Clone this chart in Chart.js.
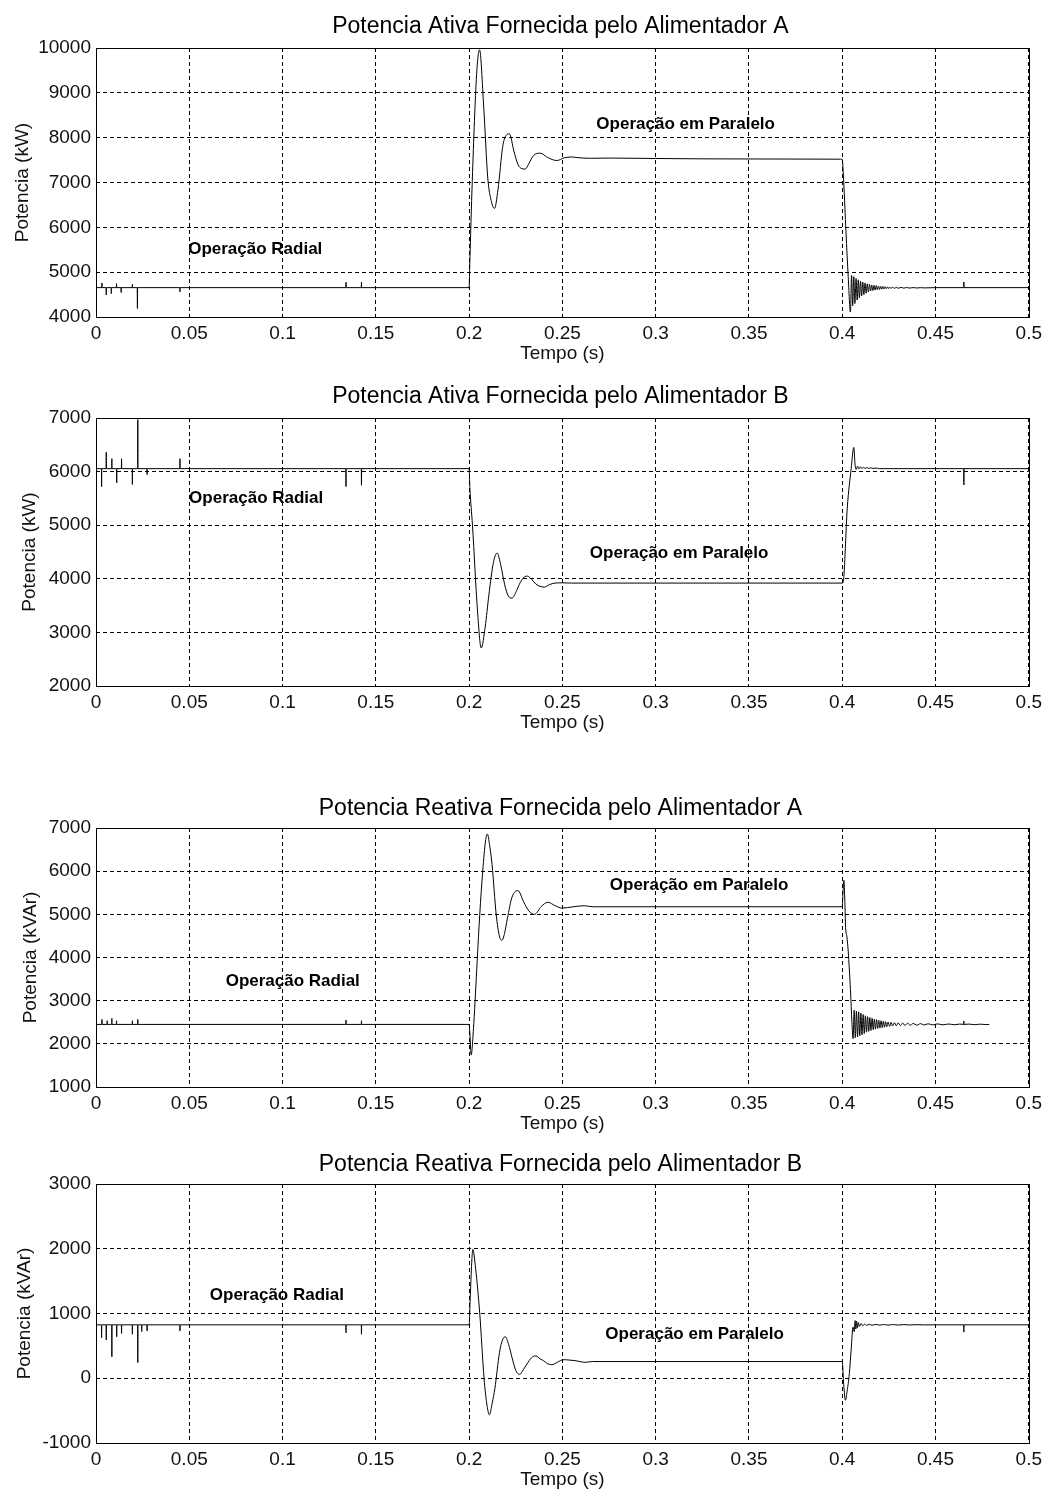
<!DOCTYPE html>
<html>
<head>
<meta charset="utf-8">
<title>Potencia fornecida pelos alimentadores</title>
<script src="https://cdn.jsdelivr.net/npm/chart.js@4.4.1/dist/chart.umd.min.js"></script>
<style>
  body { margin: 0; background: #fff; }
  canvas { position: absolute; left: 0; }
</style>
</head>
<body>
<canvas id="ativaA" width="1047" height="363" style="top:2px"></canvas>
<canvas id="ativaB" width="1047" height="362" style="top:372px"></canvas>
<canvas id="reativaA" width="1047" height="353" style="top:782px"></canvas>
<canvas id="reativaB" width="1047" height="353" style="top:1138px"></canvas>
<script>
// eixo do tempo (s) e marcas
const tempoTicks = [0, 0.05, 0.1, 0.15, 0.2, 0.25, 0.3, 0.35, 0.4, 0.45, 0.5];

const ticksAtivaA = [4000, 5000, 6000, 7000, 8000, 9000, 10000];
const ticksAtivaB = [2000, 3000, 4000, 5000, 6000, 7000];
const ticksReativaA = [1000, 2000, 3000, 4000, 5000, 6000, 7000];
const ticksReativaB = [-1000, 0, 1000, 2000, 3000];

// Potencia ativa - alimentador A (kW)
const tempoAtivaA = [
  0,
  0.0031, 0.0032, 0.0033,
  0.0054, 0.0055, 0.0056,
  0.0081, 0.0082, 0.0083,
  0.0109, 0.0110, 0.0111,
  0.0134, 0.0135, 0.0136,
  0.0194, 0.0195, 0.0196,
  0.0221, 0.0222, 0.0223,
  0.0449, 0.0450, 0.0451,
  0.1339, 0.1340, 0.1341,
  0.1422, 0.1423, 0.1424,
  0.2000, 0.2003, 0.2017, 0.2040, 0.2056, 0.2078, 0.2100, 0.2118, 0.2136, 0.2155,
  0.2180, 0.2198, 0.2216, 0.2240, 0.2262, 0.2282, 0.2301, 0.2320, 0.2345, 0.2381,
  0.2420, 0.2470, 0.2510, 0.2550, 0.2580, 0.2650, 0.2750, 0.2900, 0.3000, 0.3500,
  0.3990, 0.4000, 0.4008, 0.4020, 0.4032, 0.4044,
  0.4050, 0.4056, 0.4062, 0.4068, 0.4074, 0.4080, 0.4086, 0.4092, 0.4098, 0.4104,
  0.4110, 0.4116, 0.4122, 0.4128, 0.4134, 0.4140, 0.4146, 0.4152, 0.4158, 0.4164,
  0.4170, 0.4176, 0.4182, 0.4188, 0.4194, 0.4200, 0.4206, 0.4212, 0.4218, 0.4224,
  0.4230, 0.4236, 0.4242, 0.4248, 0.4254, 0.4260, 0.4270, 0.4280, 0.4290, 0.4300,
  0.4315, 0.4330, 0.4345, 0.4360, 0.4380, 0.4400, 0.4420, 0.4440, 0.4500,
  0.4651, 0.4652, 0.4653,
  0.5000
];
const potAtivaA = [
  4655,
  4655, 4760, 4655,
  4655, 4490, 4655,
  4655, 4520, 4655,
  4655, 4745, 4655,
  4655, 4545, 4655,
  4655, 4730, 4655,
  4655, 4190, 4655,
  4655, 4560, 4655,
  4655, 4775, 4655,
  4655, 4775, 4655,
  4655, 5100, 7050, 9400, 9960, 8700, 7100, 6600, 6420, 6850,
  7800, 8050, 8085, 7700, 7400, 7310, 7300, 7420, 7600, 7655,
  7560, 7490, 7550, 7570, 7555, 7540, 7545, 7540, 7535, 7525,
  7520, 7515, 7000, 5900, 4900, 4110,
  4930, 4250, 4900, 4300, 4860, 4380, 4830, 4430, 4800, 4470,
  4780, 4500, 4760, 4530, 4740, 4560, 4730, 4580, 4715, 4590,
  4705, 4600, 4700, 4610, 4690, 4615, 4685, 4620, 4680, 4625,
  4675, 4630, 4672, 4635, 4668, 4638, 4665, 4640, 4662, 4642,
  4660, 4644, 4658, 4645, 4656, 4647, 4654, 4649, 4655,
  4655, 4780, 4655,
  4655
];

// Potencia ativa - alimentador B (kW)
const tempoAtivaB = [
  0,
  0.0029, 0.0030, 0.0031,
  0.0054, 0.0055, 0.0056,
  0.0084, 0.0085, 0.0086,
  0.0110, 0.0111, 0.0112,
  0.0136, 0.0137, 0.0138,
  0.0194, 0.0195, 0.0196,
  0.0223, 0.0224, 0.0225,
  0.0273, 0.0274, 0.0275,
  0.0449, 0.0450, 0.0451,
  0.1339, 0.1340, 0.1341,
  0.1422, 0.1423, 0.1424,
  0.2000, 0.2004, 0.2018, 0.2045, 0.2065, 0.2086, 0.2106, 0.2130, 0.2150, 0.2170,
  0.2190, 0.2210, 0.2230, 0.2252, 0.2274, 0.2295, 0.2313, 0.2335, 0.2358, 0.2380,
  0.2404, 0.2430, 0.2460, 0.2500, 0.2550, 0.3000, 0.3500, 0.4000,
  0.4006, 0.4027, 0.4048, 0.4062, 0.4069, 0.4075, 0.4082, 0.4090, 0.4098, 0.4106,
  0.4114, 0.4122, 0.4132, 0.4142, 0.4152, 0.4165, 0.4180, 0.4200,
  0.4651, 0.4652, 0.4653,
  0.5000
];
const potAtivaB = [
  6055,
  6055, 5720, 6055,
  6055, 6360, 6055,
  6055, 6240, 6055,
  6055, 5790, 6055,
  6055, 6240, 6055,
  6055, 5760, 6055,
  6055, 6970, 6055,
  6055, 5945, 6055,
  6055, 6240, 6055,
  6055, 5720, 6055,
  6055, 5745, 6055,
  6055, 5700, 5000, 3400, 2710, 3100, 3700, 4300, 4480, 4250,
  3900, 3680, 3640, 3760, 3930, 4030, 4050, 3990, 3900, 3860,
  3845, 3890, 3920, 3925, 3920, 3920, 3920, 3920,
  3960, 5320, 6060, 6450, 6120, 6040, 6100, 6050, 6090, 6055,
  6080, 6058, 6075, 6060, 6070, 6060, 6066, 6055,
  6055, 5750, 6055,
  6055
];

// Potencia reativa - alimentador A (kVAr)
const tempoReativaA = [
  0,
  0.0031, 0.0032, 0.0033,
  0.0059, 0.0060, 0.0061,
  0.0084, 0.0085, 0.0086,
  0.0109, 0.0110, 0.0111,
  0.0194, 0.0195, 0.0196,
  0.0223, 0.0224, 0.0225,
  0.1339, 0.1340, 0.1341,
  0.1422, 0.1423, 0.1424,
  0.2000, 0.2005, 0.2011, 0.2025, 0.2043, 0.2057, 0.2073, 0.2088, 0.2098, 0.2110,
  0.2123, 0.2145, 0.2162, 0.2176, 0.2190, 0.2205, 0.2230, 0.2262, 0.2292, 0.2320,
  0.2351, 0.2386, 0.2422, 0.2461, 0.2497, 0.2559, 0.2618, 0.2660, 0.3000, 0.3500,
  0.4000, 0.4004, 0.4009, 0.4014, 0.4018, 0.4025, 0.4032, 0.4044, 0.4052, 0.4058,
  0.4064, 0.4070, 0.4076, 0.4082, 0.4088, 0.4094, 0.4100, 0.4106, 0.4112, 0.4118,
  0.4124, 0.4130, 0.4136, 0.4142, 0.4148, 0.4154, 0.4160, 0.4166, 0.4172, 0.4178,
  0.4184, 0.4190, 0.4196, 0.4202, 0.4208, 0.4214, 0.4220, 0.4226, 0.4232, 0.4238,
  0.4246, 0.4254, 0.4262, 0.4270, 0.4280, 0.4290, 0.4300, 0.4312, 0.4324, 0.4336,
  0.4350, 0.4365, 0.4380, 0.4400, 0.4420, 0.4440, 0.4460, 0.4485, 0.4510, 0.4540,
  0.4570, 0.4600, 0.4630, 0.4651, 0.4652, 0.4653, 0.4680, 0.4710, 0.4740, 0.4770,
  0.4788
];
const potReativaA = [
  2450,
  2450, 2565, 2450,
  2450, 2535, 2450,
  2450, 2590, 2450,
  2450, 2535, 2450,
  2450, 2535, 2450,
  2450, 2565, 2450,
  2450, 2550, 2450,
  2450, 2535, 2450,
  2450, 2160, 1740, 2470, 3900, 5000, 6000, 6700, 6860, 6600,
  6150, 5000, 4500, 4400, 4560, 4900, 5400, 5550, 5290, 5080,
  5000, 5180, 5280, 5200, 5145, 5175, 5200, 5175, 5175, 5175,
  5175, 5500, 5790, 5300, 4700, 4480, 4150, 3250, 2500, 2120,
  2780, 2140, 2760, 2160, 2740, 2190, 2710, 2210, 2680, 2240,
  2650, 2270, 2630, 2290, 2610, 2310, 2590, 2330, 2575, 2340,
  2560, 2355, 2545, 2365, 2535, 2375, 2525, 2385, 2515, 2395,
  2505, 2405, 2497, 2412, 2490, 2418, 2485, 2422, 2480, 2426,
  2476, 2430, 2472, 2433, 2468, 2436, 2465, 2438, 2462, 2440,
  2460, 2442, 2458, 2450, 2530, 2450, 2457, 2444, 2456, 2446,
  2450
];

// Potencia reativa - alimentador B (kVAr)
const tempoReativaB = [
  0,
  0.0029, 0.0030, 0.0031,
  0.0054, 0.0055, 0.0056,
  0.0084, 0.0085, 0.0086,
  0.0110, 0.0111, 0.0112,
  0.0136, 0.0137, 0.0138,
  0.0194, 0.0195, 0.0196,
  0.0223, 0.0224, 0.0225,
  0.0244, 0.0245, 0.0246,
  0.0273, 0.0274, 0.0275,
  0.0449, 0.0450, 0.0451,
  0.1339, 0.1340, 0.1341,
  0.1422, 0.1423, 0.1424,
  0.2000, 0.2005, 0.2014, 0.2020, 0.2035, 0.2057, 0.2080, 0.2096, 0.2109, 0.2124,
  0.2138, 0.2163, 0.2180, 0.2194, 0.2212, 0.2230, 0.2250, 0.2271, 0.2290, 0.2310,
  0.2335, 0.2358, 0.2380, 0.2400, 0.2420, 0.2443, 0.2475, 0.2506, 0.2540, 0.2568,
  0.2622, 0.2660, 0.3000, 0.3500, 0.4000,
  0.4008, 0.4017, 0.4026, 0.4038, 0.4048, 0.4058, 0.4064, 0.4069, 0.4073, 0.4077,
  0.4081, 0.4086, 0.4092, 0.4100, 0.4110, 0.4120, 0.4130, 0.4145, 0.4160, 0.4180,
  0.4200, 0.4220, 0.4245, 0.4270, 0.4300, 0.4330, 0.4360, 0.4400, 0.4440, 0.4500,
  0.4651, 0.4652, 0.4653,
  0.5000
];
const potReativaB = [
  825,
  825, 625, 825,
  825, 590, 825,
  825, 330, 825,
  825, 640, 825,
  825, 690, 825,
  825, 680, 825,
  825, 240, 825,
  825, 720, 825,
  825, 730, 825,
  825, 730, 825,
  825, 700, 825,
  825, 680, 825,
  825, 1170, 1790, 1990, 1690, 1000, 0, -420, -565, -380,
  -160, 400, 600, 640, 520, 320, 120, 60, 130, 220,
  320, 345, 300, 270, 225, 210, 250, 287, 280, 272,
  246, 258, 258, 258, 258,
  -100, -340, -200, 70, 450, 790, 720, 890, 760, 880,
  780, 860, 800, 845, 810, 838, 815, 834, 818, 832,
  820, 830, 821, 829, 822, 828, 823, 827, 824, 825,
  825, 713, 825,
  825
];

Chart.defaults.font.family = '"Liberation Sans", Arial, Helvetica, sans-serif';
Chart.defaults.color = '#000';

// caixa fechada em volta da area do grafico (estilo matlab)
const moldura = {
  id: 'moldura',
  afterDraw(chart) {
    const { ctx, chartArea: a } = chart;
    ctx.save();
    ctx.strokeStyle = '#000';
    ctx.lineWidth = 1;
    ctx.strokeRect(Math.round(a.left) + 0.5, Math.round(a.top) + 0.5,
      Math.round(a.right - a.left), Math.round(a.bottom - a.top));
    ctx.restore();
  }
};

// titulo centrado sobre os eixos, como no matlab
function titulo(texto, y) {
  return {
    id: 'titulo',
    afterDraw(chart) {
      const { ctx, chartArea: a } = chart;
      ctx.save();
      ctx.font = '23px "Liberation Sans", Arial, sans-serif';
      ctx.fillStyle = '#000';
      ctx.textAlign = 'center';
      ctx.textBaseline = 'middle';
      ctx.fillText(texto, (a.left + a.right) / 2 - 2, y);
      ctx.restore();
    }
  };
}

// textos "Operação ..." posicionados em coordenadas dos eixos
function notas(itens) {
  return {
    id: 'notas',
    afterDatasetsDraw(chart) {
      const { ctx, scales: { x, y } } = chart;
      ctx.save();
      ctx.font = 'bold 17px "Liberation Sans", Arial, sans-serif';
      ctx.fillStyle = '#000';
      ctx.textBaseline = 'middle';
      ctx.textAlign = 'left';
      itens.forEach(n => ctx.fillText(n.texto, x.getPixelForValue(n.t), y.getPixelForValue(n.v)));
      ctx.restore();
    }
  };
}

function grafico(id, cfg) {
  if (cfg.tempo.length !== cfg.valores.length) {
    throw new Error(id + ': ' + cfg.tempo.length + ' tempos, ' + cfg.valores.length + ' valores');
  }
  const pontos = cfg.tempo.map((t, i) => ({ x: t, y: cfg.valores[i] }));
  const yTicks = cfg.yTicks;

  return new Chart(document.getElementById(id), {
    type: 'line',
    data: {
      datasets: [{
        data: pontos,
        borderColor: '#000',
        borderWidth: 1,
        pointRadius: 0,
        fill: false,
        cubicInterpolationMode: 'monotone'
      }]
    },
    options: {
      responsive: false,
      animation: false,
      events: [],
      layout: { padding: { left: 0, right: 16, top: 46, bottom: 0 } },
      plugins: {
        legend: { display: false },
        tooltip: { enabled: false },
        title: { display: false }
      },
      scales: {
        x: {
          type: 'linear',
          min: tempoTicks[0],
          max: tempoTicks[tempoTicks.length - 1],
          afterBuildTicks: s => { s.ticks = tempoTicks.map(v => ({ value: v })); },
          afterFit: s => { s.height = 48; },
          ticks: {
            color: '#111',
            font: { size: 19 },
            padding: 5,
            maxRotation: 0,
            autoSkip: false,
            callback: v => String(+Number(v).toFixed(3))
          },
          grid: { color: '#000', lineWidth: 1, drawTicks: false },
          border: { display: false, dash: [4, 3] },
          title: { display: true, text: 'Tempo (s)', color: '#111', font: { size: 19 }, padding: 0 }
        },
        y: {
          min: yTicks[0],
          max: yTicks[yTicks.length - 1],
          afterBuildTicks: s => { s.ticks = yTicks.map(v => ({ value: v })); },
          afterFit: s => { s.width = 96; },
          ticks: {
            color: '#111',
            font: { size: 19 },
            padding: 5,
            autoSkip: false,
            callback: v => String(v)
          },
          grid: { color: '#000', lineWidth: 1, drawTicks: false },
          border: { display: false, dash: [4, 3] },
          title: {
            display: true,
            text: cfg.rotuloY,
            color: '#111',
            font: { size: 19 },
            padding: { top: cfg.padRotuloY, bottom: 0 }
          }
        }
      }
    },
    plugins: [moldura, titulo(cfg.titulo, cfg.yTitulo), notas(cfg.notas)]
  });
}

grafico('ativaA', {
  titulo: 'Potencia Ativa Fornecida pelo Alimentador A',
  yTitulo: 24.5,
  rotuloY: 'Potencia (kW)',
  tempo: tempoAtivaA,
  valores: potAtivaA,
  yTicks: ticksAtivaA,
  padRotuloY: 11,
  notas: [
    { texto: 'Operação Radial', t: 0.0494, v: 5500 },
    { texto: 'Operação em Paralelo', t: 0.2682, v: 8300 }
  ]
});

grafico('ativaB', {
  titulo: 'Potencia Ativa Fornecida pelo Alimentador B',
  yTitulo: 24.8,
  rotuloY: 'Potencia (kW)',
  tempo: tempoAtivaB,
  valores: potAtivaB,
  yTicks: ticksAtivaB,
  padRotuloY: 18.5,
  notas: [
    { texto: 'Operação Radial', t: 0.0499, v: 5500 },
    { texto: 'Operação em Paralelo', t: 0.2647, v: 4475 }
  ]
});

grafico('reativaA', {
  titulo: 'Potencia Reativa Fornecida pelo Alimentador A',
  yTitulo: 26.5,
  rotuloY: 'Potencia (kVAr)',
  tempo: tempoReativaA,
  valores: potReativaA,
  yTicks: ticksReativaA,
  padRotuloY: 19.5,
  notas: [
    { texto: 'Operação Radial', t: 0.0695, v: 3456 },
    { texto: 'Operação em Paralelo', t: 0.2754, v: 5663 }
  ]
});

grafico('reativaB', {
  titulo: 'Potencia Reativa Fornecida pelo Alimentador B',
  yTitulo: 26.3,
  rotuloY: 'Potencia (kVAr)',
  tempo: tempoReativaB,
  valores: potReativaB,
  yTicks: ticksReativaB,
  padRotuloY: 13.5,
  notas: [
    { texto: 'Operação Radial', t: 0.061, v: 1286 },
    { texto: 'Operação em Paralelo', t: 0.273, v: 679 }
  ]
});
</script>
</body>
</html>
